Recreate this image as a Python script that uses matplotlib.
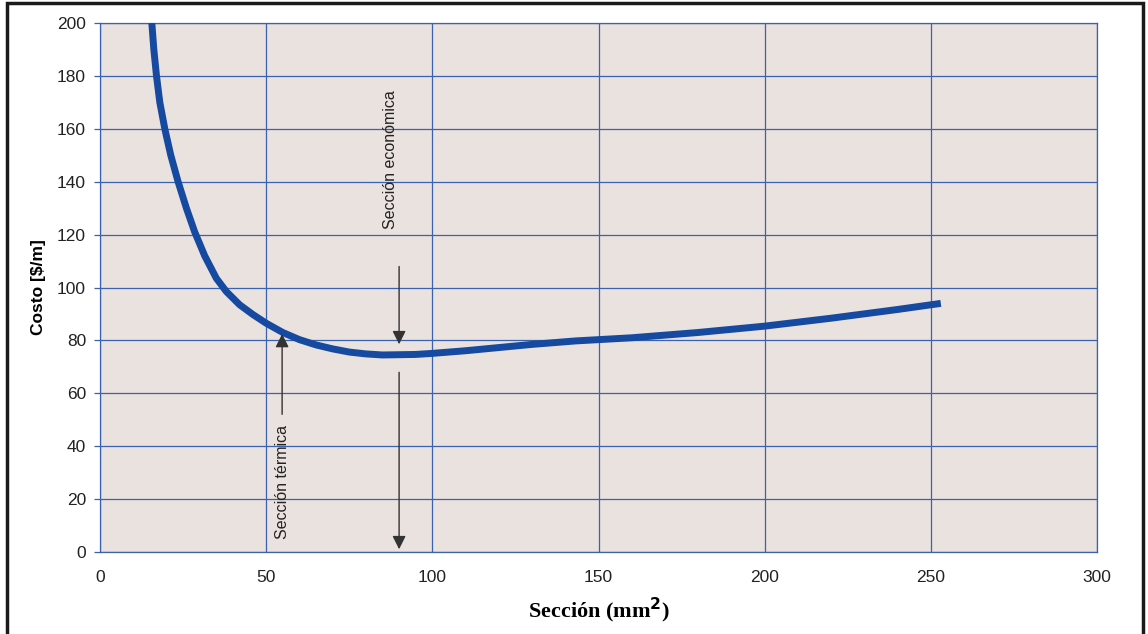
import matplotlib.pyplot as plt
from matplotlib.patches import Rectangle

# valores
seccion = [15.6, 16.2, 17.0, 18.0, 19.5, 21.3, 23.5, 26.0, 28.5, 31.5, 35.0, 38.0, 42.0,
           46.0, 50.0, 55.0, 60.0, 65.0, 70.0, 75.0, 80.0, 85.0, 90.0, 95.0, 100.0,
           110.0, 120.0, 130.0, 143.0, 160.0, 180.0, 200.0, 220.0, 240.0, 253.0]
costo = [200, 190, 180, 170, 160, 150, 140, 130, 121, 112, 103.5, 98.5, 93.5,
         89.8, 86.5, 83.0, 80.3, 78.3, 76.8, 75.6, 74.9, 74.5, 74.6, 74.7, 75.1,
         76.1, 77.3, 78.5, 79.8, 81.0, 83.0, 85.4, 88.4, 91.7, 94.0]

x_ticks = [0, 50, 100, 150, 200, 250, 300]
y_ticks = [0, 20, 40, 60, 80, 100, 120, 140, 160, 180, 200]

fondo = '#e9e2de'
azul_grid = '#3a62ad'
azul_curva = '#1649a0'
gris = '#333333'

fig = plt.figure(figsize=(11.48, 6.34), dpi=100)
ax = fig.add_axes([0.0871, 0.1293, 0.8685, 0.8344])
ax.set_facecolor(fondo)

ax.plot(seccion, costo, color=azul_curva, lw=5, solid_capstyle='butt', zorder=3)

ax.set_xlim(0, 300)
ax.set_ylim(0, 200)
ax.set_xticks(x_ticks)
ax.set_yticks(y_ticks)
ax.grid(True, color=azul_grid, lw=0.9)
ax.set_axisbelow(True)
for s in ax.spines.values():
    s.set_color(azul_grid)
    s.set_linewidth(0.9)
ax.tick_params(axis='y', colors=azul_grid, length=4, width=0.9, labelcolor='#222222',
               labelsize=12.5, pad=6)
ax.tick_params(axis='x', length=0, labelcolor='#222222', labelsize=12.5, pad=13)
for lab in ax.get_xticklabels() + ax.get_yticklabels():
    lab.set_fontfamily('Liberation Sans')

ax.set_ylabel('Costo [$/m]', fontfamily='Liberation Sans', fontweight='bold',
              fontsize=12.5, labelpad=8)
ax.set_xlabel('Sección (mm$^{\\mathbf{2}}$)', fontfamily='Liberation Serif',
              fontweight='bold', fontsize=16, labelpad=8)

# flechas seccion economica
flecha = dict(arrowstyle='-|>', color=gris, lw=1.0, mutation_scale=20)
ax.annotate('', xy=(90, 77.5), xytext=(90, 109), arrowprops=flecha, zorder=4)
ax.annotate('', xy=(90, 0), xytext=(90, 69), arrowprops=flecha, zorder=4)
ax.text(87.3, 148.5, 'Sección económica', rotation=90, ha='center', va='center',
        fontsize=11.5, color='#222222', fontfamily='Liberation Sans')

# flecha seccion termica
ax.annotate('', xy=(54.8, 83.5), xytext=(54.8, 51), arrowprops=flecha, zorder=4)
ax.text(54.8, 26.5, 'Sección térmica', rotation=90, ha='center', va='center',
        fontsize=11.5, color='#222222', fontfamily='Liberation Sans')

# marco exterior
fig.patches.append(Rectangle((7 / 1148, -0.01), 1136 / 1148, 1 - 3 / 634 + 0.01,
                             transform=fig.transFigure, fill=False,
                             edgecolor='#1a1a1a', lw=2.5))

fig.savefig('out.png', dpi=100)
